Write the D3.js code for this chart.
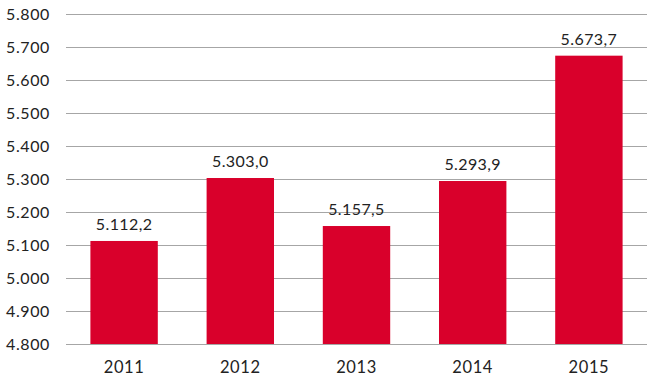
<!DOCTYPE html>
<html><head><meta charset="utf-8">
<script src="https://cdn.jsdelivr.net/npm/d3@7"></script>
<style>body{margin:0;background:#fff}svg{display:block}</style>
</head><body>
<svg id="c" width="651" height="381"></svg>
<script>
const years = ["2011","2012","2013","2014","2015"];
const values = [5112.2, 5303.0, 5157.5, 5293.9, 5673.7];
const yTicks = [4800,4900,5000,5100,5200,5300,5400,5500,5600,5700,5800];

(function(){
const mL=66, mR=647, mT=14, mB=344;
const loc = d3.formatLocale({decimal:",",thousands:".",grouping:[3],currency:["","€"]});
const fTick = loc.format(","), fVal = loc.format(",.1f");
const svg = d3.select("#c");
const font = "Lato, 'DejaVu Sans', sans-serif";
const x = d3.scaleBand().domain(years).range([mL,mR]).paddingInner(0.42).paddingOuter(0.21);
const y = d3.scaleLinear().domain([4800,5800]).range([mB,mT]);

svg.append("g").selectAll("line").data(yTicks).join("line")
  .attr("x1",mL).attr("x2",mR).attr("y1",d=>Math.round(y(d))+0.5).attr("y2",d=>Math.round(y(d))+0.5)
  .attr("stroke","#a6a6a6").attr("stroke-width",1);
svg.append("g").selectAll("text").data(yTicks).join("text")
  .attr("x",50).attr("y",d=>y(d)).attr("dy","0.36em").attr("text-anchor","end")
  .attr("font-family",font).attr("font-size",16).attr("letter-spacing","0.6px").attr("fill","#222")
  .text(d=>fTick(d));

svg.append("g").selectAll("rect").data(values).join("rect")
  .attr("x",(d,i)=>x(years[i])).attr("width",x.bandwidth())
  .attr("y",d=>y(d)).attr("height",d=>mB-y(d)).attr("fill","#d9002b");

svg.append("g").selectAll("text").data(values).join("text")
  .attr("x",(d,i)=>x(years[i])+x.bandwidth()/2).attr("y",d=>y(d)-11)
  .attr("text-anchor","middle").attr("font-family",font).attr("font-size",16).attr("letter-spacing","0.4px").attr("fill","#222")
  .text(d=>fVal(d));

svg.append("g").selectAll("text").data(years).join("text")
  .attr("x",d=>x(d)+x.bandwidth()/2).attr("y",373)
  .attr("text-anchor","middle").attr("font-family",font).attr("font-size",16.5).attr("letter-spacing","0.6px").attr("fill","#222")
  .text(d=>d);
})();
</script>
</body></html>
